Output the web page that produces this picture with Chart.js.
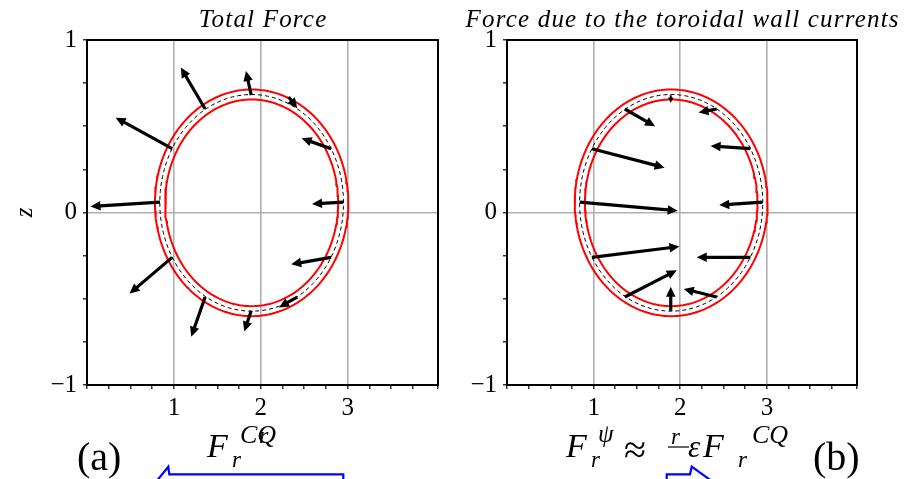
<!DOCTYPE html>
<html>
<head>
<meta charset="utf-8">
<script src="https://cdn.jsdelivr.net/npm/chart.js@4.4.0/dist/chart.umd.min.js"></script>
<style>
  html, body { margin: 0; padding: 0; background: #fff; }
  #page { position: relative; width: 918px; height: 479px; overflow: hidden; }
  .panel { position: absolute; top: 0; height: 479px; }
  #left { left: 0; width: 460px; }
  #right { left: 460px; width: 458px; }
  svg { position: absolute; left: 0; top: 0; }
  svg text { font-family: "Liberation Serif", serif; fill: #000; }
</style>
</head>
<body>
<div id="page">
  <div class="panel" id="left"><canvas id="total" width="460" height="479"></canvas></div>
  <div class="panel" id="right"><canvas id="wall" width="458" height="479"></canvas></div>
  <svg width="918" height="479">
    <text x="77" y="470" font-size="40">(a)</text>
    <text x="207" y="457" font-size="34" font-style="italic">F</text>
    <text x="232" y="467" font-size="23" font-style="italic">r</text>
    <text x="240" y="443" font-size="26" font-style="italic">CQ</text>
    <text x="259" y="443" font-size="24" font-style="italic">r</text>

    <text x="566" y="457" font-size="34" font-style="italic">F</text>
    <text x="591" y="467" font-size="23" font-style="italic">r</text>
    <text x="598" y="442" font-size="25" font-style="italic">ψ</text>
    <text x="624" y="463" font-size="40">≈</text>
    <text x="671" y="444" font-size="23" font-style="italic">r</text>
    <line x1="668" y1="447" x2="689" y2="447" stroke="#000" stroke-width="1.2"/>
    <text x="688" y="457" font-size="31" font-style="italic">ε</text>
    <text x="703" y="457" font-size="34" font-style="italic">F</text>
    <text x="738" y="467" font-size="23" font-style="italic">r</text>
    <text x="752" y="443" font-size="26" font-style="italic">CQ</text>
    <text x="813" y="470" font-size="40">(b)</text>

    <polyline points="156.7,481 168.3,466.7 169.3,474.3 343.3,474.3 343.3,481" fill="none" stroke="#0000ff" stroke-width="2.2"/>
    <polyline points="666.7,481 666.7,474.3 690,474.3 691.7,466.7 711.7,481" fill="none" stroke="#0000ff" stroke-width="2.2"/>
  </svg>
</div>
<script>
// axis ticks that carry a label / a grid line
const rTicks = [1, 2, 3];
const zTicks = [-1, 0, 1];

// wall cross-section: centre (r, z) and half-width / half-height of each contour
const wallCentre = [1.895, 0.056];
const wallOuter = [1.113, 0.657];
const wallMid = [1.057, 0.628];
const wallInner = [0.996, 0.599];

// force vectors, going round the wall from the outboard midplane
const totalR  = [2.95, 2.81, 2.32, 1.89, 1.36, 0.98, 0.84, 0.98, 1.36, 1.89, 2.42, 2.81];
const totalZ  = [0.06, 0.37, 0.67, 0.68, 0.60, 0.37, 0.06, -0.26, -0.49, -0.57, -0.49, -0.26];
const totalDR = [-0.36, -0.34, 0.10, -0.06, -0.28, -0.65, -0.80, -0.49, -0.16, -0.08, -0.21, -0.46];
const totalDZ = [-0.01, 0.06, -0.065, 0.14, 0.24, 0.18, -0.025, -0.21, -0.23, -0.12, -0.06, -0.04];

const wallR  = [2.95, 2.81, 2.42, 1.89, 1.36, 0.98, 0.84, 0.98, 1.36, 1.89, 2.42, 2.81];
const wallZ  = [0.06, 0.37, 0.60, 0.68, 0.60, 0.37, 0.06, -0.26, -0.49, -0.57, -0.49, -0.26];
const wallDR = [-0.50, -0.46, -0.21, 0.0, 0.35, 0.84, 1.13, 1.01, 0.60, 0.0, -0.38, -0.62];
const wallDZ = [-0.017, 0.016, -0.02, -0.045, -0.10, -0.11, -0.05, 0.063, 0.155, 0.14, 0.047, 0.0];

function contour([a, b]) {
  const pts = [];
  for (let i = 0; i <= 180; i++) {
    const t = (i / 180) * 2 * Math.PI;
    pts.push({ x: wallCentre[0] + a * Math.cos(t), y: wallCentre[1] + b * Math.sin(t) });
  }
  return pts;
}

const toArrows = (r, z, dr, dz) => r.map((v, i) => ({ x: v, y: z[i], dr: dr[i], dz: dz[i] }));

// draws datasets flagged with `quiver` as filled arrows
const quiverPlugin = {
  id: 'quiver',
  afterDatasetsDraw(chart) {
    const { ctx } = chart;
    const xs = chart.scales.x, ys = chart.scales.y;
    const headLength = 10, headWidth = 9.5, shaftWidth = 3.2;
    ctx.save();
    ctx.fillStyle = '#000';
    chart.data.datasets.filter(d => d.quiver).forEach(ds => {
      ds.data.forEach(p => {
        const x0 = xs.getPixelForValue(p.x), y0 = ys.getPixelForValue(p.y);
        const x1 = xs.getPixelForValue(p.x + p.dr), y1 = ys.getPixelForValue(p.y + p.dz);
        const len = Math.hypot(x1 - x0, y1 - y0);
        if (len < 0.5) return;
        const ux = (x1 - x0) / len, uy = (y1 - y0) / len;
        const s = Math.min(1, len / (headLength * 1.4));
        const hl = headLength * s, hw = headWidth * s / 2, sw = shaftWidth * Math.max(s, 0.6) / 2;
        const bx = x1 - ux * hl, by = y1 - uy * hl;
        const nx = -uy, ny = ux;
        ctx.beginPath();
        ctx.moveTo(x0 + nx * sw, y0 + ny * sw);
        ctx.lineTo(bx + nx * sw, by + ny * sw);
        ctx.lineTo(bx + nx * hw, by + ny * hw);
        ctx.lineTo(x1, y1);
        ctx.lineTo(bx - nx * hw, by - ny * hw);
        ctx.lineTo(bx - nx * sw, by - ny * sw);
        ctx.lineTo(x0 - nx * sw, y0 - ny * sw);
        ctx.closePath();
        ctx.fill();
      });
    });
    ctx.restore();
  }
};

// box round the plot area
const framePlugin = {
  id: 'frame',
  afterDraw(chart) {
    const { ctx, chartArea: a } = chart;
    ctx.save();
    ctx.strokeStyle = '#000';
    ctx.lineWidth = 2;
    ctx.strokeRect(a.left, a.top, a.right - a.left, a.bottom - a.top);
    ctx.restore();
  }
};

// italic title with wide letter spacing
const titlePlugin = {
  id: 'spacedTitle',
  afterDraw(chart, args, opts) {
    const { ctx, chartArea: a } = chart;
    ctx.save();
    ctx.font = 'italic ' + opts.size + 'px "Liberation Serif"';
    ctx.letterSpacing = opts.spacing + 'px';
    ctx.textAlign = 'center';
    ctx.textBaseline = 'alphabetic';
    ctx.fillStyle = '#000';
    ctx.fillText(opts.text, (a.left + a.right) / 2 + opts.spacing / 2, opts.baseline);
    ctx.restore();
  }
};

const tickFont = { family: 'Liberation Serif', size: 25 };

function makeChart(id, title, arrows, yWidth, padRight, zLabel) {
  return new Chart(document.getElementById(id), {
    type: 'scatter',
    data: {
      datasets: [
        { data: contour(wallOuter), showLine: true, borderColor: '#ff0000', borderWidth: 2, pointRadius: 0 },
        { data: contour(wallInner), showLine: true, borderColor: '#ff0000', borderWidth: 2, pointRadius: 0 },
        { data: contour(wallMid), showLine: true, borderColor: '#000', borderWidth: 1, borderDash: [4, 3], pointRadius: 0 },
        { data: arrows, showLine: false, pointRadius: 0, quiver: true }
      ]
    },
    options: {
      responsive: false,
      animation: false,
      events: [],
      layout: { padding: { top: 40, right: padRight, bottom: 54, left: 0 } },
      plugins: {
        legend: { display: false },
        tooltip: { enabled: false },
        spacedTitle: { text: title, size: 25, spacing: 1.2, baseline: 27 }
      },
      scales: {
        x: {
          type: 'linear', min: 0, max: 4.04,
          afterFit: (s) => { s.height = 40; },
          border: { display: false },
          grid: {
            color: (c) => rTicks.includes(c.tick.value) ? '#b0b0b0' : 'rgba(0,0,0,0)',
            lineWidth: 1.6, tickColor: '#000', tickWidth: 1.2, tickLength: 4
          },
          ticks: {
            stepSize: 0.25, autoSkip: false, maxRotation: 0, padding: 4,
            color: '#000', font: tickFont,
            callback: (v) => rTicks.includes(v) ? String(v) : ''
          }
        },
        y: {
          type: 'linear', min: -1, max: 1,
          afterFit: (s) => { s.width = yWidth; },
          border: { display: false },
          title: {
            display: zLabel, text: 'z', color: '#000',
            font: { family: 'Liberation Serif', style: 'italic', size: 25 },
            padding: { top: 10, bottom: 0 }
          },
          grid: {
            color: (c) => c.tick.value === 0 ? '#b0b0b0' : 'rgba(0,0,0,0)',
            lineWidth: 1.6, tickColor: '#000', tickWidth: 1.2, tickLength: 4
          },
          ticks: {
            stepSize: 0.25, autoSkip: false, padding: 6,
            color: '#000', font: tickFont,
            callback: (v) => zTicks.includes(v) ? (v < 0 ? '\u2212' + Math.abs(v) : String(v)) : ''
          }
        }
      }
    },
    plugins: [quiverPlugin, framePlugin, titlePlugin]
  });
}

makeChart('total', 'Total Force', toArrows(totalR, totalZ, totalDR, totalDZ), 87, 22, true);
makeChart('wall', 'Force due to the toroidal wall currents', toArrows(wallR, wallZ, wallDR, wallDZ), 47, 61, false);
</script>
</body>
</html>
